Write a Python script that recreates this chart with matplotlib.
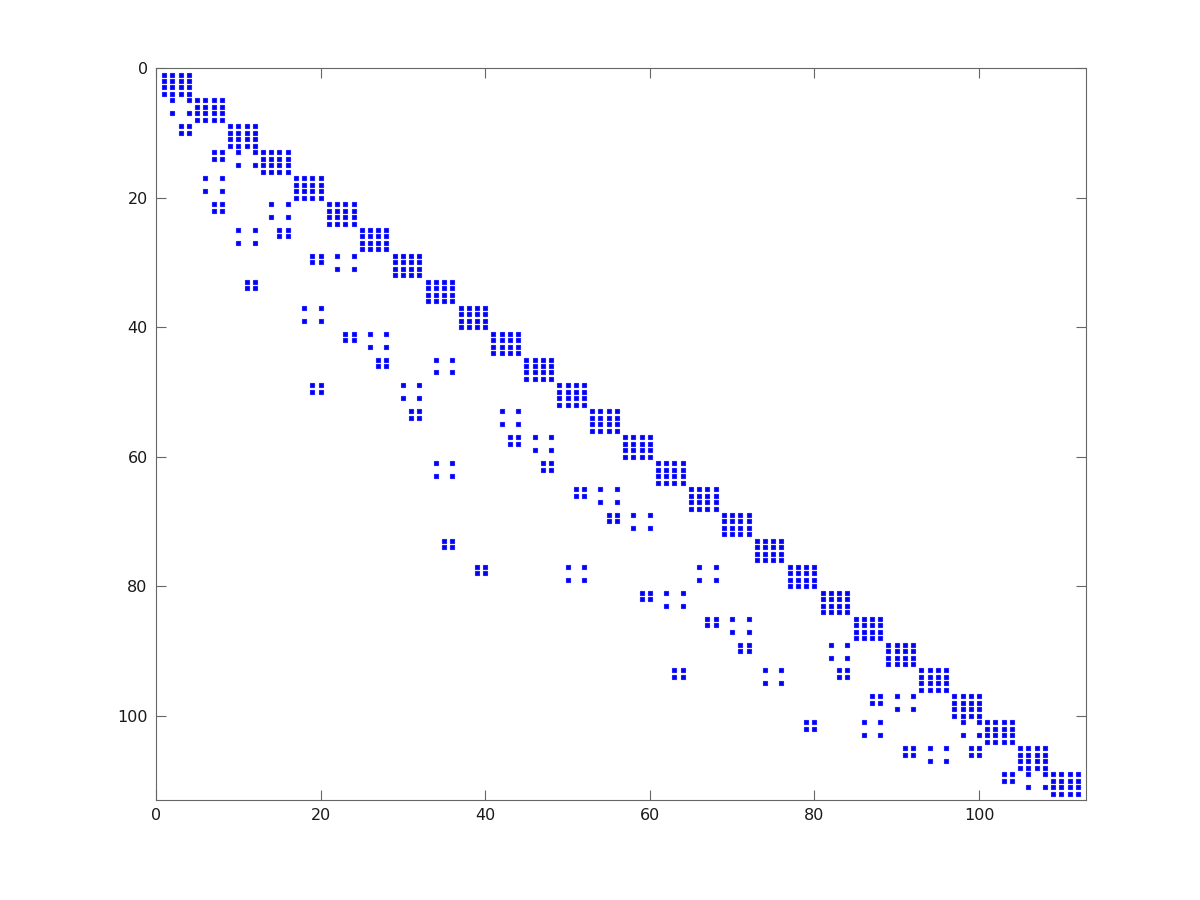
import numpy as np
import matplotlib
matplotlib.use("Agg")
import matplotlib.pyplot as plt

# Matrix size (1-indexed entries, Octave-style spy)
n = 112

# Dense 4x4 diagonal blocks: starting row/col index of each block
diag_block_starts = [1, 5, 9, 13, 17, 21, 25, 29, 33, 37, 41, 45, 49, 53,
                     57, 61, 65, 69, 73, 77, 81, 85, 89, 93, 97, 101, 105, 109]
diag_block_size = 4

# Off-diagonal nonzeros (row -> columns)
off_rows = [5, 7, 9, 10, 13, 14, 15, 17, 19, 21, 22, 23, 25, 26, 27,
            29, 30, 31, 33, 34, 37, 39, 41, 42, 43, 45, 46, 47, 49, 50, 51,
            53, 54, 55, 57, 58, 59, 61, 62, 63, 65, 66, 67, 69, 70, 71,
            73, 74, 77, 78, 79, 81, 82, 83, 85, 86, 87, 89, 90, 91,
            93, 94, 95, 97, 98, 99, 101, 102, 103, 105, 106, 107,
            109, 110, 111]
off_cols = [[2, 4], [2, 4], [3, 4], [3, 4], [7, 8, 10, 12], [7, 8], [10, 12],
            [6, 8], [6, 8], [7, 8, 14, 16], [7, 8], [14, 16],
            [10, 12, 15, 16], [15, 16], [10, 12],
            [19, 20, 22, 24], [19, 20], [22, 24], [11, 12], [11, 12],
            [18, 20], [18, 20], [23, 24, 26, 28], [23, 24], [26, 28],
            [27, 28, 34, 36], [27, 28], [34, 36],
            [19, 20, 30, 32], [19, 20], [30, 32],
            [31, 32, 42, 44], [31, 32], [42, 44],
            [43, 44, 46, 48], [43, 44], [46, 48],
            [34, 36, 47, 48], [47, 48], [34, 36],
            [51, 52, 54, 56], [51, 52], [54, 56],
            [55, 56, 58, 60], [55, 56], [58, 60],
            [35, 36], [35, 36],
            [39, 40, 50, 52, 66, 68], [39, 40], [50, 52, 66, 68],
            [59, 60, 62, 64], [59, 60], [62, 64],
            [67, 68, 70, 72], [67, 68], [70, 72],
            [71, 72, 82, 84], [71, 72], [82, 84],
            [63, 64, 74, 76, 83, 84], [63, 64, 83, 84], [74, 76],
            [87, 88, 90, 92], [87, 88], [90, 92],
            [79, 80, 86, 88, 98, 100], [79, 80], [86, 88, 98, 100],
            [91, 92, 94, 96, 99, 100], [91, 92, 99, 100], [94, 96],
            [103, 104, 106, 108], [103, 104], [106, 108]]

# Build the sparse matrix pattern
M = np.zeros((n, n), dtype=bool)
for s in diag_block_starts:
    M[s - 1:s - 1 + diag_block_size, s - 1:s - 1 + diag_block_size] = True
for r, cs in zip(off_rows, off_cols):
    for c in cs:
        M[r - 1, c - 1] = True

rows, cols = np.nonzero(M)
rows = rows + 1
cols = cols + 1

fig = plt.figure(figsize=(12, 9), dpi=100)
ax = fig.add_axes([0.13, 0.1111, 0.775, 0.8133])
ax.plot(cols, rows, linestyle="none", marker="s", markersize=3.0,
        markerfacecolor="#0000ee", markeredgecolor="#2020ff",
        markeredgewidth=0.8)

ax.set_xlim(0, n + 1)
ax.set_ylim(n + 1, 0)
ax.set_xticks([0, 20, 40, 60, 80, 100])
ax.set_yticks([0, 20, 40, 60, 80, 100])
ax.tick_params(direction="in", top=True, right=True, length=7,
               width=0.8, color="#666666", labelsize=11.5, labelcolor="#1a1a1a",
               pad=6)
for sp in ax.spines.values():
    sp.set_color("#666666")
    sp.set_linewidth(0.8)

fig.savefig("out.png", dpi=100)
